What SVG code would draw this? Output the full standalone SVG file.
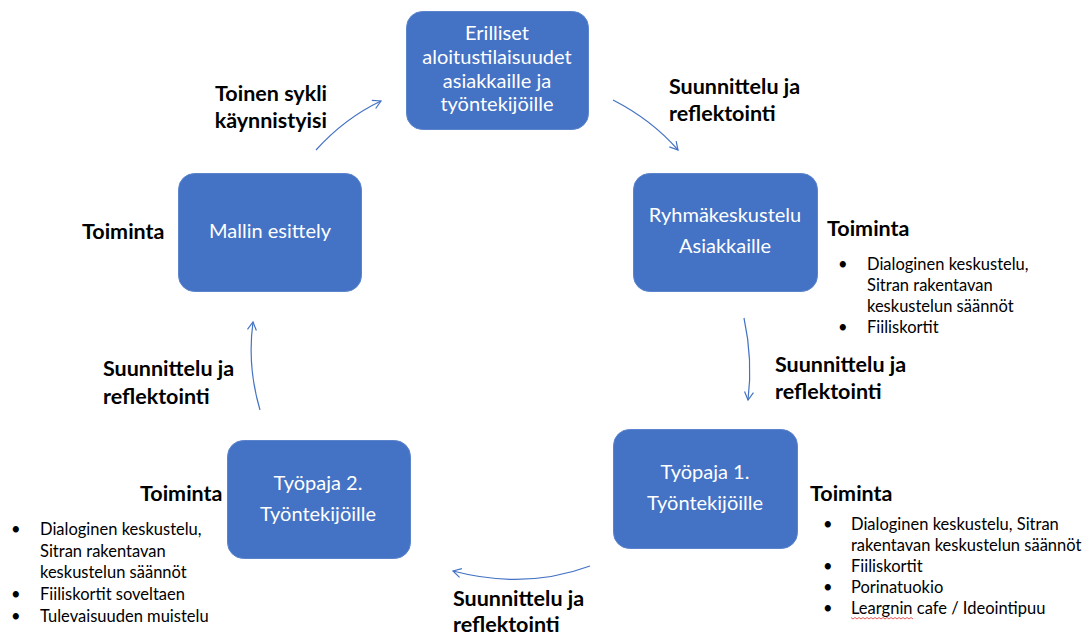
<svg xmlns="http://www.w3.org/2000/svg" width="1092" height="637" viewBox="0 0 1092 637">
<style>
.box{fill:#4472C4;stroke:#5B84CC;stroke-width:1}
.bt{font-family:Lato,"Open Sans",sans-serif;font-size:20px;fill:#fff;text-anchor:middle}
.lb{font-family:Lato,"Open Sans",sans-serif;font-size:21.5px;font-weight:bold;fill:#000}
.li{font-family:Lato,"Open Sans",sans-serif;font-size:16.5px;fill:#000}
.con{fill:none;stroke:#4472C4;stroke-width:1.2;marker-end:url(#ah)}
</style>
<defs>
<marker id="ah" markerWidth="12" markerHeight="12" refX="9" refY="5" orient="auto" markerUnits="userSpaceOnUse">
<path d="M1,0.5 L9,5 L1,9.5" fill="none" stroke="#4472C4" stroke-width="1.2"/>
</marker>
</defs>
<rect width="1092" height="637" fill="#fff"/>
<g id="connectors">
<path class="con" d="M316,150 Q345,118 381,101"/>
<path class="con" d="M613,100 Q652,120 678,150"/>
<path class="con" d="M744,318 Q753,360 748,400"/>
<path class="con" d="M590,566 Q525,590 453,571"/>
<path class="con" d="M260,410 Q247,366 253,322"/>
</g>
<g id="n1">
<rect class="box" x="406.500" y="11.500" width="182" height="118" rx="16"/>
<text class="bt"><tspan x="497" y="40">Erilliset</tspan><tspan x="497" y="64">aloitustilaisuudet</tspan><tspan x="497" y="88">asiakkaille ja</tspan><tspan x="497" y="111">työntekijöille</tspan></text>
</g>
<g id="n2">
<rect class="box" x="633.500" y="173.500" width="184" height="118" rx="16"/>
<text class="bt"><tspan x="725" y="222">Ryhmäkeskustelu</tspan><tspan x="725" y="253">Asiakkaille</tspan></text>
</g>
<g id="n3">
<rect class="box" x="613.500" y="429.500" width="184" height="119" rx="16"/>
<text class="bt"><tspan x="705" y="479">Työpaja 1.</tspan><tspan x="705" y="510">Työntekijöille</tspan></text>
</g>
<g id="n4">
<rect class="box" x="227.500" y="440.500" width="183" height="118" rx="16"/>
<text class="bt"><tspan x="318" y="490">Työpaja 2.</tspan><tspan x="318" y="521">Työntekijöille</tspan></text>
</g>
<g id="n5">
<rect class="box" x="178.500" y="173.500" width="183" height="118" rx="16"/>
<text class="bt" x="270" y="238">Mallin esittely</text>
</g>
<g id="labels">
<text class="lb" text-anchor="end"><tspan x="327" y="101">Toinen sykli</tspan><tspan x="327" y="128">käynnistyisi</tspan></text>
<text class="lb"><tspan x="669" y="94">Suunnittelu ja</tspan><tspan x="669" y="121">reflektointi</tspan></text>
<text class="lb" x="82" y="239">Toiminta</text>
<text class="lb"><tspan x="103" y="376">Suunnittelu ja</tspan><tspan x="103" y="404">reflektointi</tspan></text>
<text class="lb"><tspan x="775" y="372">Suunnittelu ja</tspan><tspan x="775" y="399">reflektointi</tspan></text>
<text class="lb"><tspan x="453" y="606">Suunnittelu ja</tspan><tspan x="453" y="632">reflektointi</tspan></text>
</g>
<g id="act2">
<text class="lb" x="827" y="236">Toiminta</text>
<text class="li"><tspan x="838" y="270">•</tspan><tspan x="867" y="270">Dialoginen keskustelu,</tspan><tspan x="867" y="291">Sitran rakentavan</tspan><tspan x="867" y="312">keskustelun säännöt</tspan><tspan x="838" y="333">•</tspan><tspan x="867" y="333">Fiiliskortit</tspan></text>
</g>
<g id="act3">
<text class="lb" x="810" y="501">Toiminta</text>
<text class="li"><tspan x="823" y="530">•</tspan><tspan x="851" y="530">Dialoginen keskustelu, Sitran</tspan><tspan x="851" y="551">rakentavan keskustelun säännöt</tspan><tspan x="823" y="572">•</tspan><tspan x="851" y="572">Fiiliskortit</tspan><tspan x="823" y="593">•</tspan><tspan x="851" y="593">Porinatuokio</tspan><tspan x="823" y="614">•</tspan><tspan x="851" y="614">Leargnin cafe / Ideointipuu</tspan></text>
<path d="M851,617.500 l2,1.500 l2,-1.500 l2,1.500 l2,-1.500 l2,1.500 l2,-1.500 l2,1.500 l2,-1.500 l2,1.500 l2,-1.500 l2,1.500 l2,-1.500 l2,1.500 l2,-1.500 l2,1.500 l2,-1.500 l2,1.500 l2,-1.500 l2,1.500 l2,-1.500 l2,1.500 l2,-1.500 l2,1.500 l2,-1.500 l2,1.500 l2,-1.500 l2,1.500 l2,-1.500 l2,1.500 l2,-1.500 l2,1.500" fill="none" stroke="#e03030" stroke-width="0.8"/>
</g>
<g id="act4">
<text class="lb" x="140" y="501">Toiminta</text>
<text class="li"><tspan x="11" y="535">•</tspan><tspan x="40" y="535">Dialoginen keskustelu,</tspan><tspan x="40" y="557">Sitran rakentavan</tspan><tspan x="40" y="578">keskustelun säännöt</tspan><tspan x="11" y="600">•</tspan><tspan x="40" y="600">Fiiliskortit soveltaen</tspan><tspan x="11" y="622">•</tspan><tspan x="40" y="622">Tulevaisuuden muistelu</tspan></text>
</g>
</svg>
